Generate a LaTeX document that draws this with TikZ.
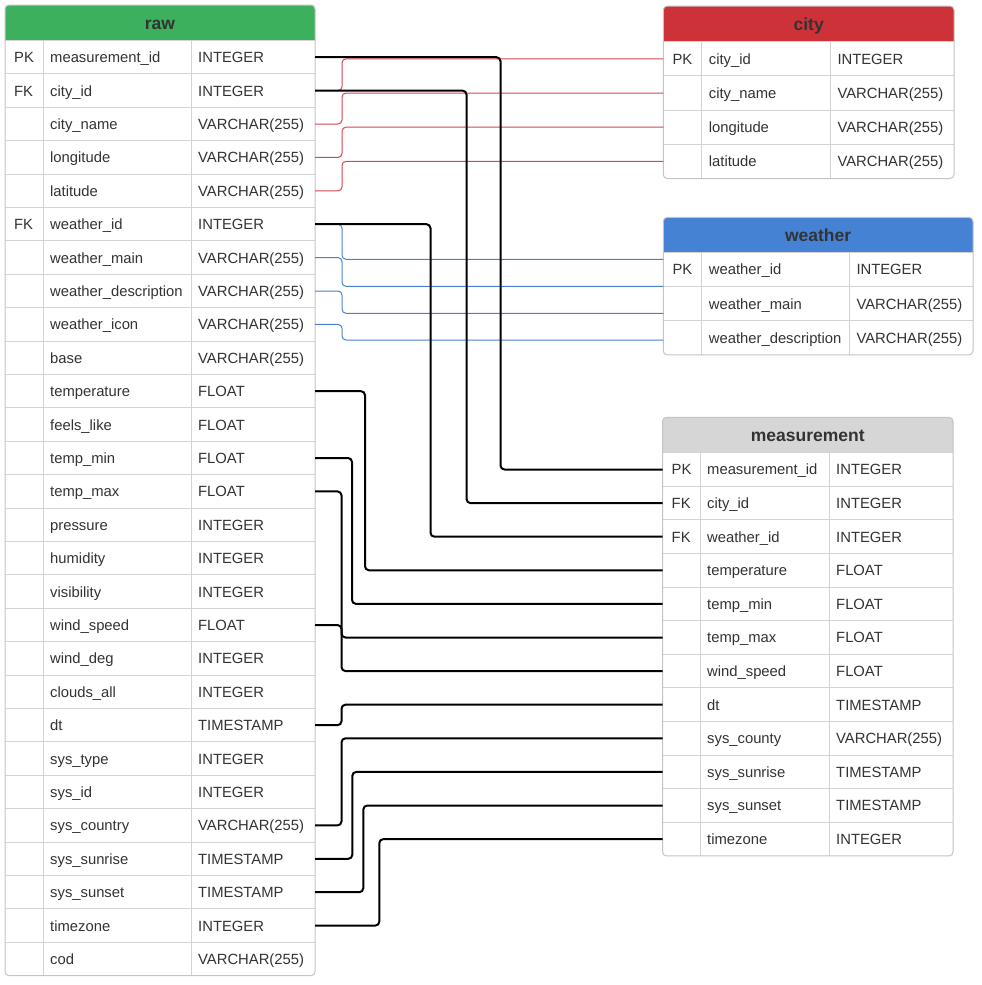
\documentclass[tikz,border=0pt]{standalone}
\usepackage{fontspec}
\setmainfont{Liberation Sans}
\definecolor{hgreen}{HTML}{3CB05C}
\definecolor{hred}{HTML}{CD3239}
\definecolor{hblue}{HTML}{4682D4}
\definecolor{hgray}{HTML}{D6D6D6}
\definecolor{gridc}{HTML}{D3D3D3}
\definecolor{bordc}{HTML}{C4C4C4}
\definecolor{txtc}{HTML}{333333}
\definecolor{lred}{HTML}{D9444E}
\definecolor{lblue}{HTML}{4A80D0}
\tikzset{
  rowbox/.style={draw=none,inner sep=0pt,outer sep=0pt},
  celltxt/.style={anchor=base west,inner sep=0pt,text=txtc,font=\fontsize{14.8}{17}\selectfont},
  titletxt/.style={anchor=base,inner sep=0pt,text=txtc,font=\fontsize{17.5}{20}\selectfont\bfseries},
  blackline/.style={draw=black,line width=2pt,rounded corners=4pt},
  redline/.style={draw=lred,line width=1pt,rounded corners=4pt},
  blueline/.style={draw=lblue,line width=1pt,rounded corners=4pt},
}
\newcommand\ertab[4]{%
  \foreach[count=\i] \fk/\fn/\ft in {#4} {\xdef\nrows{\i}}%
  \pgfmathsetmacro\yb{\th+\nrows*\rh}%
  \pgfmathsetmacro\tw{\tc-\tx}%
  \fill[white,rounded corners=4pt] (\tx,\ty) rectangle (\tc,\yb);
  \fill[#3,rounded corners=4pt] (\tx,\ty) rectangle (\tc,\th+6);
  \fill[white] (\tx-0.5,\th) rectangle (\tc+0.5,\th+8);
  \foreach \j in {1,...,\nrows} {
    \draw[gridc,line width=1pt] (\tx,{\th+(\j-1)*\rh}) -- (\tc,{\th+(\j-1)*\rh});
  }
  \draw[gridc,line width=1pt] (\ta,\th) -- (\ta,\yb);
  \draw[gridc,line width=1pt] (\tb,\th) -- (\tb,\yb);
  \draw[bordc,line width=1pt,rounded corners=4pt] (\tx,\ty) rectangle (\tc,\yb);
  \node[titletxt] (#1-title) at ({(\tx+\tc)/2},{(\ty+\th)/2+6.5}) {#2};
  \foreach[count=\i] \fk/\fn/\ft in {#4} {
    \pgfmathsetmacro\yc{\th+(\i-0.5)*\rh}
    \node[rowbox,minimum width=\tw pt,minimum height=\rh pt] (#1-\i) at ({(\tx+\tc)/2},\yc) {};
    \node[celltxt] (#1-\i-k) at (\tx+9,\yc+5.4) {\fk};
    \node[celltxt] (#1-\i-n) at (\ta+7,\yc+5.4) {\fn};
    \node[celltxt] (#1-\i-t) at (\tb+7,\yc+5.4) {\ft};
  }
}
\begin{document}
\begin{tikzpicture}[x=1pt,y=-1pt]
\useasboundingbox (0,0) rectangle (982,985);
% raw
\def\tx{5}\def\ta{43}\def\tb{191}\def\tc{315}\def\ty{5}\def\th{40.5}\def\rh{33.4}
\ertab{raw}{raw}{hgreen}{PK/measurement\_id/INTEGER,FK/city\_id/INTEGER,/city\_name/VARCHAR(255),/longitude/VARCHAR(255),/latitude/VARCHAR(255),FK/weather\_id/INTEGER,/weather\_main/VARCHAR(255),/weather\_description/VARCHAR(255),/weather\_icon/VARCHAR(255),/base/VARCHAR(255),/temperature/FLOAT,/feels\_like/FLOAT,/temp\_min/FLOAT,/temp\_max/FLOAT,/pressure/INTEGER,/humidity/INTEGER,/visibility/INTEGER,/wind\_speed/FLOAT,/wind\_deg/INTEGER,/clouds\_all/INTEGER,/dt/TIMESTAMP,/sys\_type/INTEGER,/sys\_id/INTEGER,/sys\_country/VARCHAR(255),/sys\_sunrise/TIMESTAMP,/sys\_sunset/TIMESTAMP,/timezone/INTEGER,/cod/VARCHAR(255)}
% city
\def\tx{663.3}\def\ta{701.7}\def\tb{830.3}\def\tc{954}\def\ty{6}\def\th{41.7}\def\rh{34.2}
\ertab{city}{city}{hred}{PK/city\_id/INTEGER,/city\_name/VARCHAR(255),/longitude/VARCHAR(255),/latitude/VARCHAR(255)}
% weather
\def\tx{663.3}\def\ta{701.7}\def\tb{849.3}\def\tc{973}\def\ty{217.3}\def\th{252.3}\def\rh{34.2}
\ertab{weather}{weather}{hblue}{PK/weather\_id/INTEGER,/weather\_main/VARCHAR(255),/weather\_description/VARCHAR(255)}
% measurement
\def\tx{662.5}\def\ta{700}\def\tb{829}\def\tc{953}\def\ty{417.3}\def\th{452.7}\def\rh{33.6}
\ertab{meas}{measurement}{hgray}{PK/measurement\_id/INTEGER,FK/city\_id/INTEGER,FK/weather\_id/INTEGER,/temperature/FLOAT,/temp\_min/FLOAT,/temp\_max/FLOAT,/wind\_speed/FLOAT,/dt/TIMESTAMP,/sys\_county/VARCHAR(255),/sys\_sunrise/TIMESTAMP,/sys\_sunset/TIMESTAMP,/timezone/INTEGER}
% weather ports
\coordinate (wp1) at (663.3,259.3);
\coordinate (wp2) at (663.3,286.3);
\coordinate (wp3) at (663.3,313.3);
\coordinate (wp4) at (663.3,340);
% red connectors
\draw[redline] (raw-2.east) -- ++(27,0) |- (city-1.west);
\draw[redline] (raw-3.east) -- ++(27,0) |- (city-2.west);
\draw[redline] (raw-4.east) -- ++(27,0) |- (city-3.west);
\draw[redline] (raw-5.east) -- ++(27,0) |- (city-4.west);
% blue connectors
\draw[blueline] (raw-6.east) -- ++(27,0) |- (wp1);
\draw[blueline] (raw-7.east) -- ++(27,0) |- (wp2);
\draw[blueline] (raw-8.east) -- ++(27,0) |- (wp3);
\draw[blueline] (raw-9.east) -- ++(27,0) |- (wp4);
% black connectors
\draw[blackline] (raw-1.east) -- ++(185.5,0) |- (meas-1.west);
\draw[blackline] (raw-2.east) -- ++(151.5,0) |- (meas-2.west);
\draw[blackline] (raw-6.east) -- ++(115.5,0) |- (meas-3.west);
\draw[blackline] (raw-11.east) -- ++(50,0) |- (meas-4.west);
\draw[blackline] (raw-13.east) -- ++(37,0) |- (meas-5.west);
\draw[blackline] (raw-14.east) -- ++(26.5,0) |- (meas-6.west);
\draw[blackline] (raw-18.east) -- ++(26.5,0) |- (meas-7.west);
\draw[blackline] (raw-21.east) -- ++(26.5,0) |- (meas-8.west);
\draw[blackline] (raw-24.east) -- ++(26.5,0) |- (meas-9.west);
\draw[blackline] (raw-25.east) -- ++(37.3,0) |- (meas-10.west);
\draw[blackline] (raw-26.east) -- ++(48.3,0) |- (meas-11.west);
\draw[blackline] (raw-27.east) -- ++(64.3,0) |- (meas-12.west);
\end{tikzpicture}
\end{document}
